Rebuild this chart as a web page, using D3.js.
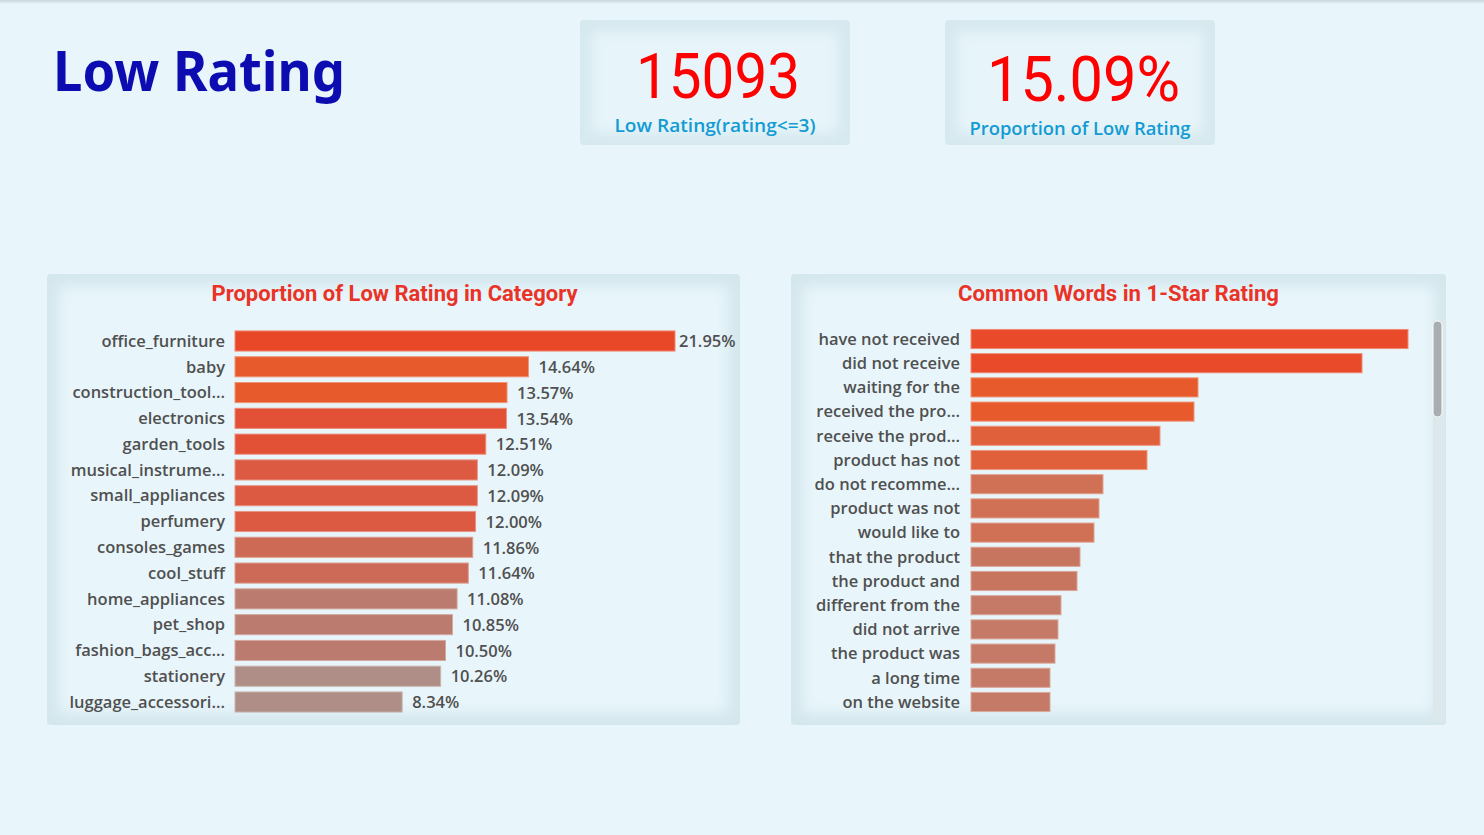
<!DOCTYPE html>
<html>
<head>
<meta charset="utf-8">
<script src="https://cdn.jsdelivr.net/npm/d3@7"></script>
<style>
  html, body { margin: 0; padding: 0; background: #e8f6fb; }
  svg { display: block; }
</style>
</head>
<body>
<script>
// ---------- DATA ----------
const kpiLowCount = "15093";
const kpiLowCountLabel = "Low Rating(rating<=3)";
const kpiLowShare = "15.09%";
const kpiLowShareLabel = "Proportion of Low Rating";

const categories = ["office_furniture","baby","construction_tool...","electronics","garden_tools",
  "musical_instrume...","small_appliances","perfumery","consoles_games","cool_stuff",
  "home_appliances","pet_shop","fashion_bags_acc...","stationery","luggage_accessori..."];
const categoryShare = [21.95,14.64,13.57,13.54,12.51,12.09,12.09,12.00,11.86,11.64,11.08,10.85,10.50,10.26,8.34];

const phrases = ["have not received","did not receive","waiting for the","received the pro...",
  "receive the prod...","product has not","do not recomme...","product was not","would like to",
  "that the product","the product and","different from the","did not arrive","the product was",
  "a long time","on the website"];
const phraseCount = [437,391,227,223,189,176,132,128,123,109,106,90,87,84,79,79];

// ---------- SETUP ----------
const W = 1484, H = 835;
const svg = d3.select("body").append("svg").attr("width", W).attr("height", H);
const defs = svg.append("defs");

defs.append("filter").attr("id","soft").attr("x","-10%").attr("y","-10%").attr("width","120%").attr("height","120%")
  .append("feGaussianBlur").attr("stdDeviation", 7);
const topGrad = defs.append("linearGradient").attr("id","topShade").attr("x1",0).attr("y1",0).attr("x2",0).attr("y2",1);
topGrad.append("stop").attr("offset",0).attr("stop-color","#c9d6db");
topGrad.append("stop").attr("offset",1).attr("stop-color","#e8f6fb");

svg.append("rect").attr("width",W).attr("height",H).attr("fill","#e8f6fb");
svg.append("rect").attr("width",W).attr("height",4).attr("fill","url(#topShade)");

function card(x, y, w, h, edge, center) {
  const g = svg.append("g");
  const cid = "clip" + Math.round(x) + "_" + Math.round(y);
  defs.append("clipPath").attr("id", cid).append("rect")
    .attr("x",x).attr("y",y).attr("width",w).attr("height",h).attr("rx",4);
  const inner = g.append("g").attr("clip-path", `url(#${cid})`);
  inner.append("rect").attr("x",x).attr("y",y).attr("width",w).attr("height",h).attr("fill",edge);
  inner.append("rect").attr("x",x+12).attr("y",y+12).attr("width",w-24).attr("height",h-24)
    .attr("fill",center).attr("filter","url(#soft)");
  return g;
}

// ---------- TITLE ----------
svg.append("text").attr("x",53).attr("y",91)
  .attr("font-family","'Noto Sans', 'Open Sans', sans-serif").attr("font-weight",700)
  .attr("font-size",56).attr("fill","#0c0cb0")
  .attr("textLength",292).attr("lengthAdjust","spacingAndGlyphs")
  .text("Low Rating");

// ---------- KPI CARDS ----------
const kpis = [
  {x:580, value:kpiLowCount, label:kpiLowCountLabel, vx0:636, vx1:800, vb:98, lb:132, lw:201},
  {x:945, value:kpiLowShare, label:kpiLowShareLabel, vx0:987, vx1:1180, vb:101, lb:135, lw:221}
];
kpis.forEach(k => {
  card(k.x, 20, 270, 125, "#d6e9ef", "#e7f5fa");
  svg.append("text").attr("x",(k.vx0+k.vx1)/2).attr("y",k.vb).attr("text-anchor","middle")
    .attr("font-family","Roboto, 'DejaVu Sans', sans-serif").attr("font-weight",400)
    .attr("font-size",63).attr("fill","#ff0000")
    .attr("textLength",k.vx1-k.vx0).attr("lengthAdjust","spacingAndGlyphs")
    .text(k.value);
  svg.append("text").attr("x",k.x+135).attr("y",k.lb).attr("text-anchor","middle")
    .attr("font-family","'Open Sans', 'Noto Sans', sans-serif").attr("font-weight",600)
    .attr("font-size",17.5).attr("fill","#129bd4")
    .attr("textLength",k.lw).attr("lengthAdjust","spacingAndGlyphs")
    .text(k.label);
});

// ---------- PANELS ----------
function panel(x0, x1, title, tw) {
  card(x0, 274, x1-x0, 451, "#d4e7ed", "#e8f6fb");
  svg.append("text").attr("x",(x0+x1)/2 + (x0 < 100 ? 1 : 0)).attr("y",301).attr("text-anchor","middle")
    .attr("font-family","Roboto, 'DejaVu Sans', sans-serif").attr("font-weight",700)
    .attr("font-size",22).attr("fill","#ea3327")
    .attr("textLength",tw).attr("lengthAdjust","spacingAndGlyphs")
    .text(title);
}
panel(47, 740, "Proportion of Low Rating in Category", 366);
panel(791, 1446, "Common Words in 1-Star Rating", 321);

const labelFont = "'Open Sans', 'Noto Sans', sans-serif";
const labelSize = 16.5;

// ---------- LEFT CHART ----------
const yL = d3.scaleBand().domain(categories).range([328.1, 714.9]).paddingInner(0.22).paddingOuter(0.11);
const xL = d3.scaleLinear().domain([0, d3.max(categoryShare)]).range([235, 675]);
const colL = d3.scaleThreshold()
  .domain([10.4, 11.2, 11.75, 11.95, 12.3, 13.555, 15])
  .range(["#ae8e86","#bb7b6e","#cc6a57","#cc6a55","#dc5a41","#e25035","#e75a2c","#e94828"]);

const dataL = categories.map((c,i) => ({c, v: categoryShare[i]}));
const gL = svg.append("g");
gL.selectAll("rect").data(dataL).join("rect")
  .attr("x", xL(0)).attr("y", d => yL(d.c))
  .attr("width", d => xL(d.v) - xL(0)).attr("height", yL.bandwidth())
  .attr("fill", d => colL(d.v))
  .attr("stroke", d => d3.interpolateRgb(colL(d.v), "#ffffff")(0.35)).attr("stroke-width", 1);

const axL = d3.axisLeft(yL).tickSize(0).tickPadding(10);
const axLg = svg.append("g").attr("transform", `translate(${xL(0)},0.5)`).call(axL);
axLg.select(".domain").remove();
axLg.selectAll("text").attr("font-family", labelFont).attr("font-weight",600)
  .attr("font-size",labelSize).attr("fill","#505050");

gL.selectAll("text.val").data(dataL).join("text").attr("class","val")
  .attr("x", d => Math.min(xL(d.v) + 10, 679))
  .attr("y", d => yL(d.c) + yL.bandwidth()/2 + 0.5).attr("dy","0.35em")
  .attr("font-family", labelFont).attr("font-weight",600).attr("font-size",labelSize).attr("fill","#505050")
  .text(d => d.v.toFixed(2) + "%");

// ---------- RIGHT CHART ----------
const yR = d3.scaleBand().domain(phrases).range([326.9, 714.1]).paddingInner(0.21).paddingOuter(0.105);
const xR = d3.scaleLinear().domain([0, d3.max(phraseCount)]).range([971, 1408]);
const colR = d3.scaleThreshold()
  .domain([100, 115, 150, 200, 300])
  .range(["#c47a66","#c87560","#d07055","#e0603c","#e75a2c","#e94a2a"]);

const dataR = phrases.map((p,i) => ({p, v: phraseCount[i]}));
const gR = svg.append("g");
gR.selectAll("rect").data(dataR).join("rect")
  .attr("x", xR(0)).attr("y", d => yR(d.p))
  .attr("width", d => xR(d.v) - xR(0)).attr("height", yR.bandwidth())
  .attr("fill", d => colR(d.v))
  .attr("stroke", d => d3.interpolateRgb(colR(d.v), "#ffffff")(0.35)).attr("stroke-width", 1);

const axR = d3.axisLeft(yR).tickSize(0).tickPadding(11);
const axRg = svg.append("g").attr("transform", `translate(${xR(0)},0.5)`).call(axR);
axRg.select(".domain").remove();
axRg.selectAll("text").attr("font-family", labelFont).attr("font-weight",600)
  .attr("font-size",labelSize).attr("fill","#505050");

// scrollbar
svg.append("rect").attr("x",1433).attr("y",320).attr("width",12).attr("height",402).attr("fill","#dde8ec");
svg.append("rect").attr("x",1433).attr("y",321).attr("width",9).attr("height",96).attr("rx",4.5)
  .attr("fill","#a9aeb0").attr("stroke","#ffffff").attr("stroke-width",1);
</script>
</body>
</html>
